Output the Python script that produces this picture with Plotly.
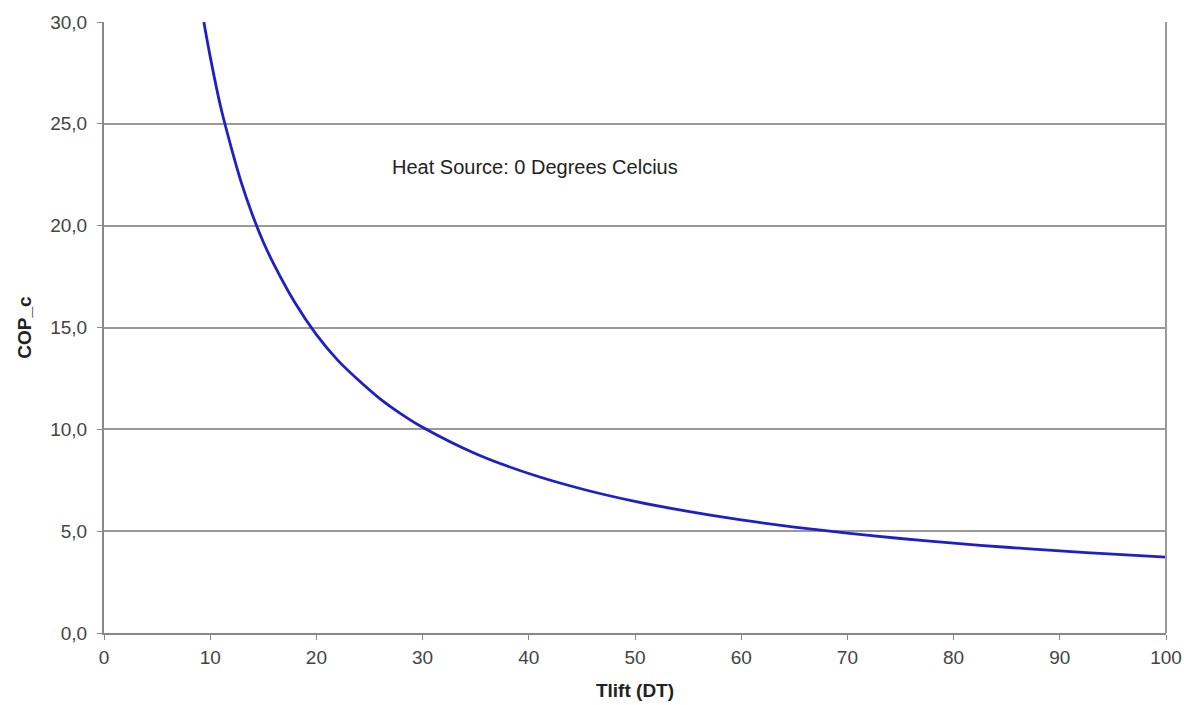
import plotly.graph_objects as go

# Values
tlift = [9.4, 10, 11, 12, 13, 14, 15, 16, 18, 20, 22, 24, 26, 28, 30, 35, 40, 45,
         50, 55, 60, 65, 70, 75, 80, 85, 90, 95, 100]
cop_c = [30.0, 28.3, 25.8, 23.8, 22.0, 20.5, 19.2, 18.1, 16.2, 14.65, 13.4, 12.4,
         11.5, 10.75, 10.1, 8.8, 7.83, 7.07, 6.46, 5.97, 5.55, 5.2, 4.9, 4.64,
         4.41, 4.21, 4.03, 3.87, 3.73]

x_ticks = [0, 10, 20, 30, 40, 50, 60, 70, 80, 90, 100]
y_ticks = [0, 5, 10, 15, 20, 25, 30]
y_ticklabels = ["0,0", "5,0", "10,0", "15,0", "20,0", "25,0", "30,0"]

FONT = "Liberation Sans, Arial, sans-serif"

fig = go.Figure()
fig.add_trace(go.Scatter(
    x=tlift, y=cop_c, mode="lines",
    line=dict(color="#1f1fc8", width=2.8, shape="spline", smoothing=0.8),
    showlegend=False, hoverinfo="skip"))

fig.add_annotation(x=40.6, y=22.9, text="Heat Source: 0 Degrees Celcius",
                   showarrow=False, font=dict(family=FONT, size=20, color="#222"))

fig.update_layout(
    width=1184, height=705,
    margin=dict(l=104, r=18, t=22, b=72),
    paper_bgcolor="white", plot_bgcolor="white",
    font=dict(family=FONT, size=19, color="#333"),
)
fig.update_xaxes(
    range=[0, 100], tickvals=x_ticks, ticks="outside", ticklen=5, tickcolor="#888",
    showline=True, linecolor="#888", linewidth=2, mirror=False, showgrid=False, zeroline=False,
    automargin=False, ticklabelstandoff=1,
    title=dict(text="<b>Tlift (DT)</b>", font=dict(size=19, color="#222"), standoff=17),
    tickfont=dict(size=19, color="#444"),
)
fig.update_yaxes(
    range=[0, 30], tickvals=y_ticks, ticktext=y_ticklabels, ticks="outside", ticklen=5,
    tickcolor="#888", showline=True, linecolor="#888", linewidth=2, showgrid=True,
    gridcolor="#999", gridwidth=1.5, zeroline=False, automargin=False,
    ticklabelstandoff=6,
    title=dict(text="<b>COP_c</b>", font=dict(size=19, color="#222"), standoff=14),
    tickfont=dict(size=19, color="#444"),
)
# right border line
fig.add_shape(type="line", xref="paper", yref="paper", x0=1, x1=1, y0=0, y1=1,
              line=dict(color="#999", width=2))

fig.write_html("out.html")
